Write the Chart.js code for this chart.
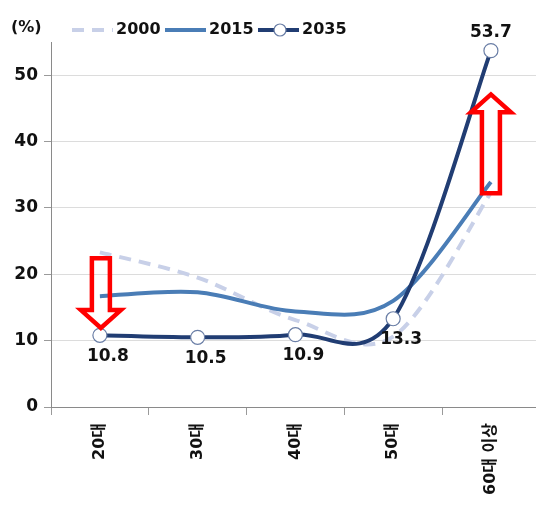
<!DOCTYPE html>
<html>
<head>
<meta charset="utf-8">
<script src="https://cdn.jsdelivr.net/npm/chart.js@4.4.1/dist/chart.umd.min.js"></script>
<style>
  html, body { margin: 0; padding: 0; background: #fff; overflow: hidden; }
  #wrap { width: 548px; height: 508px; }
</style>
</head>
<body>
<div id="wrap"><canvas id="chart" width="548" height="508"></canvas></div>
<script>
// categories and series
const ageGroups = ["20대", "30대", "40대", "50대", "60대 이상"];
const years = ["2000", "2015", "2035"];
const share2000 = [23.3, 19.5, 13.1, 10.6, 32.3];
const share2015 = [16.7, 17.3, 14.4, 16.0, 33.9];
const share2035 = [10.8, 10.5, 10.9, 13.3, 53.7];
const yTicks = [0, 10, 20, 30, 40, 50];

const boldFont = "'DejaVu Sans', 'Noto Sans CJK KR', sans-serif";

// excel style smoothing (catmull-rom) instead of chart.js own spline
const smoothLines = {
  id: "smoothLines",
  beforeDatasetsDraw(chart) {
    chart.data.datasets.forEach((ds, di) => {
      const meta = chart.getDatasetMeta(di);
      const pts = meta.data;
      const n = pts.length;
      pts.forEach((p, i) => {
        const prev = pts[Math.max(i - 1, 0)];
        const next = pts[Math.min(i + 1, n - 1)];
        const tx = (next.x - prev.x) / 6;
        const ty = (next.y - prev.y) / 6;
        p.cp1x = p.x - tx;
        p.cp1y = p.y - ty;
        p.cp2x = p.x + tx;
        p.cp2y = p.y + ty;
      });
      meta.dataset._pointsUpdated = true;
    });
  }
};

// value labels for 2035 + legend + the red arrows
const extras = {
  id: "extras",
  afterDatasetsDraw(chart) {
    const c = chart.ctx;
    const x = chart.scales.x;
    const y = chart.scales.y;

    // red outlined arrows
    c.save();
    c.strokeStyle = "#ff0000";
    c.lineWidth = 4.5;
    c.lineJoin = "miter";
    // down arrow over 20대
    let cx = x.getPixelForValue(0) + 1;
    let top = y.getPixelForValue(22.4), base = y.getPixelForValue(14.6), tip = y.getPixelForValue(11.9);
    c.beginPath();
    c.moveTo(cx - 9, top);
    c.lineTo(cx + 9, top);
    c.lineTo(cx + 9, base);
    c.lineTo(cx + 20, base);
    c.lineTo(cx, tip);
    c.lineTo(cx - 20, base);
    c.lineTo(cx - 9, base);
    c.closePath();
    c.stroke();
    // up arrow over 60대 이상
    cx = x.getPixelForValue(4);
    const bottom = y.getPixelForValue(32.2);
    base = y.getPixelForValue(44.4);
    tip = y.getPixelForValue(47.1);
    c.beginPath();
    c.moveTo(cx - 9, bottom);
    c.lineTo(cx + 9, bottom);
    c.lineTo(cx + 9, base);
    c.lineTo(cx + 20, base);
    c.lineTo(cx, tip);
    c.lineTo(cx - 20, base);
    c.lineTo(cx - 9, base);
    c.closePath();
    c.stroke();
    c.restore();
  },
  afterDraw(chart) {
    const c = chart.ctx;
    const meta = chart.getDatasetMeta(2);
    c.save();
    c.font = "bold 17px " + boldFont;
    c.fillStyle = "#111";
    c.textAlign = "center";
    c.textBaseline = "middle";
    meta.data.forEach((pt, i) => {
      const last = i === meta.data.length - 1;
      const dx = last ? 0 : 8;
      const dy = last ? -18 : 21;
      c.fillText(share2035[i].toFixed(1), pt.x + dx, pt.y + dy);
    });

    // unit label
    c.textAlign = "left";
    c.font = "bold 16px " + boldFont;
    c.fillText("(%)", 11, 28);

    // legend
    const items = [
      { x: 72, ds: chart.data.datasets[0], marker: false },
      { x: 165, ds: chart.data.datasets[1], marker: false },
      { x: 258, ds: chart.data.datasets[2], marker: true }
    ];
    const ly = 30;
    items.forEach(it => {
      c.save();
      c.strokeStyle = it.ds.borderColor;
      c.lineWidth = it.ds.borderWidth;
      c.setLineDash(it.ds.borderDash || []);
      c.beginPath();
      c.moveTo(it.x, ly);
      c.lineTo(it.x + 41, ly);
      c.stroke();
      c.restore();
      if (it.marker) {
        c.beginPath();
        c.arc(it.x + 22, ly, 6, 0, Math.PI * 2);
        c.fillStyle = "#fff";
        c.fill();
        c.lineWidth = 1.2;
        c.strokeStyle = it.ds.pointBorderColor;
        c.stroke();
      }
      c.fillStyle = "#111";
      c.font = "bold 16px " + boldFont;
      c.fillText(it.ds.label, it.x + 44, ly);
    });
    c.restore();
  }
};

new Chart(document.getElementById("chart"), {
  type: "line",
  data: {
    labels: ageGroups,
    datasets: [
      {
        label: years[0],
        data: share2000,
        borderColor: "#c8d0e8",
        borderWidth: 4,
        borderDash: [12, 8],
        pointRadius: 0,
        tension: 0.4,
        order: 3
      },
      {
        label: years[1],
        data: share2015,
        borderColor: "#4a7db6",
        borderWidth: 4,
        pointRadius: 0,
        tension: 0.4,
        order: 2
      },
      {
        label: years[2],
        data: share2035,
        borderColor: "#213d73",
        borderWidth: 4,
        pointRadius: 7,
        pointBackgroundColor: "#ffffff",
        pointBorderColor: "#6a7ea6",
        pointBorderWidth: 1.2,
        tension: 0.4,
        order: 1
      }
    ]
  },
  options: {
    responsive: false,
    animation: false,
    devicePixelRatio: 1,
    layout: { padding: { top: 42, right: 7, left: 0, bottom: 0 } },
    plugins: {
      legend: { display: false },
      tooltip: { enabled: false }
    },
    scales: {
      x: {
        offset: true,
        afterFit(scale) { scale.height = 101; },
        grid: {
          offset: true,
          drawOnChartArea: false,
          drawTicks: true,
          tickLength: 8,
          tickColor: "#9a9a9a"
        },
        border: { color: "#8a8a8a", width: 1 },
        ticks: {
          minRotation: 90,
          maxRotation: 90,
          padding: 8,
          autoSkip: false,
          color: "#111",
          font: { family: boldFont, size: 16, weight: "bold" }
        }
      },
      y: {
        min: 0,
        max: 55,
        afterFit(scale) { scale.width = 51; },
        afterBuildTicks(scale) {
          scale.ticks = yTicks.map(v => ({ value: v }));
        },
        grid: {
          color: "#dcdcdc",
          lineWidth: 1,
          drawTicks: true,
          tickLength: 7,
          tickColor: "#9a9a9a"
        },
        border: { color: "#8a8a8a", width: 1 },
        ticks: {
          padding: 6,
          color: "#111",
          font: { family: boldFont, size: 17, weight: "bold" }
        }
      }
    }
  },
  plugins: [smoothLines, extras]
});
</script>
</body>
</html>
